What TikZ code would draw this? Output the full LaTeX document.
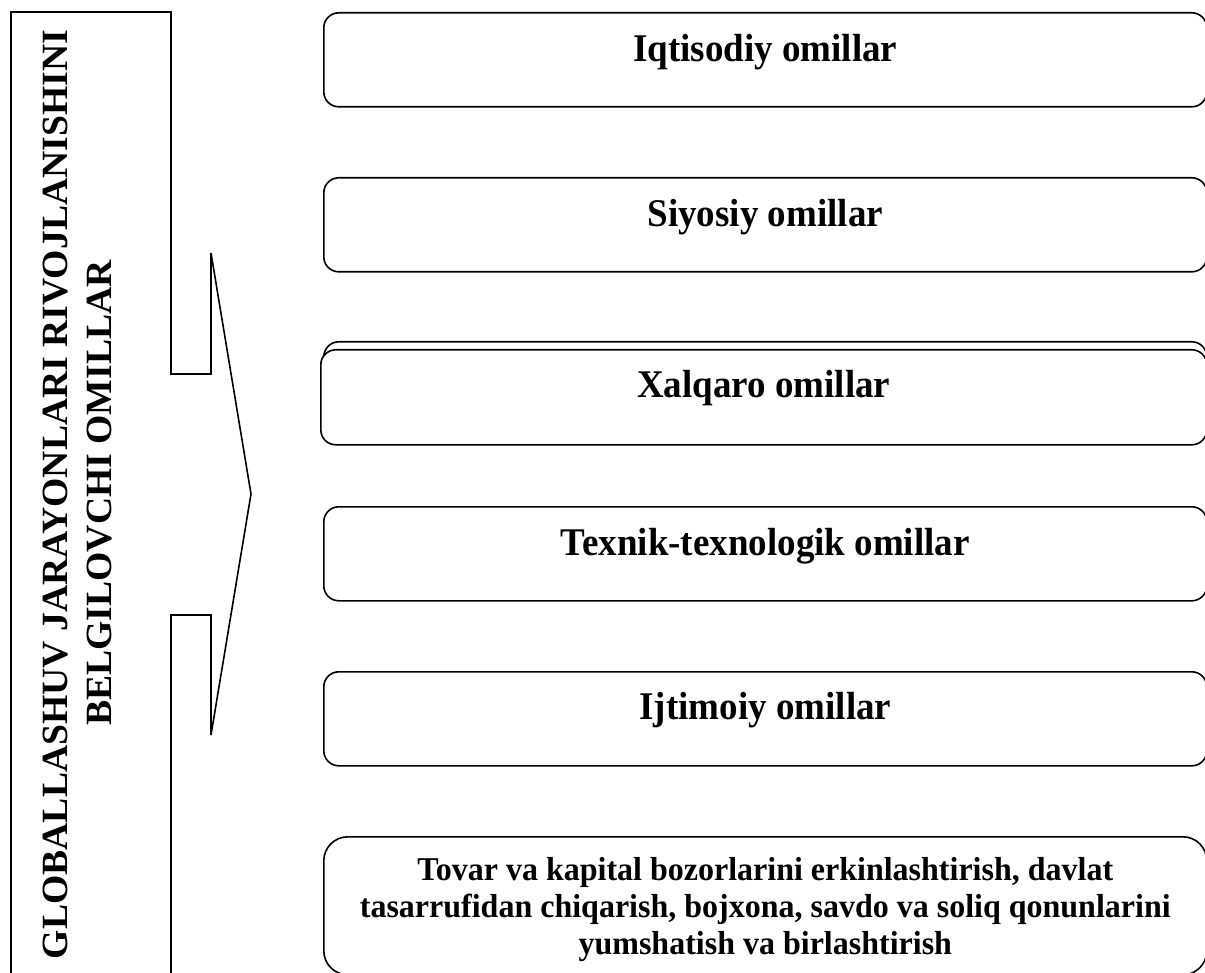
\documentclass[tikz,border=0pt]{standalone}
\usepackage{fontspec}
\setmainfont{Liberation Serif}
\begin{document}
\begin{tikzpicture}[x=1pt,y=-1pt,
  ln/.style={line width=1.6pt, line join=miter},
  fbox/.style={draw, line width=1.6pt, fill=white, rounded corners=15pt,
    anchor=north west, inner sep=0pt, minimum width=883pt, minimum height=94pt},
  lbl/.style={font=\fontsize{37}{42}\selectfont\bfseries, anchor=base, inner sep=0pt, yscale=1.06, transform shape},
  vlbl/.style={font=\fontsize{37}{42}\selectfont\bfseries, anchor=base, inner sep=0pt, rotate=90, xscale=1.018, transform shape},
  small/.style={font=\fontsize{32}{35.5}\selectfont\bfseries, anchor=base, inner sep=0pt, align=center, yscale=1.04, transform shape}
]
\useasboundingbox (0,0) rectangle (1205,973);
\clip (0,0) rectangle (1205,973);
% left frame with chevron arrow
\draw[ln] (11,990) -- (11,12) -- (171,12) -- (171,374) -- (211,374) -- (211,253)
  -- (251,494) -- (211,735) -- (211,615) -- (171,615) -- (171,990);
\node[vlbl] (h1) at (67,494.5) {GLOBALLASHUV JARAYONLARI RIVOJLANISHINI};
\node[vlbl] (h2) at (111,493) {BELGILOVCHI OMILLAR};
% boxes
\node[fbox] (b1) at (323,12) {};
\node[lbl] (t1) at ([yshift=-50pt]b1.north) {Iqtisodiy omillar};
\node[fbox] (b2) at (323,177) {};
\node[lbl] (t2) at ([yshift=-50pt]b2.north) {Siyosiy omillar};
\node[fbox, minimum height=95pt] (b3a) at (323,341) {};
\node[fbox, minimum width=886pt, minimum height=95pt] (b3) at (320,349) {};
\node[lbl] (t3) at ([yshift=-49pt]b3.north) {Xalqaro omillar};
\node[fbox] (b4) at (323,506) {};
\node[lbl] (t4) at ([yshift=-49pt]b4.north) {Texnik-texnologik omillar};
\node[fbox] (b5) at (323,671) {};
\node[lbl] (t5) at ([yshift=-48pt]b5.north) {Ijtimoiy omillar};
\node[fbox, rounded corners=24pt, minimum height=138pt] (b6) at (323,836) {};
\node[small, anchor=north] (t6) at ([yshift=-21pt]b6.north)
  {Tovar va kapital bozorlarini erkinlashtirish, davlat\\
   tasarrufidan chiqarish, bojxona, savdo va soliq qonunlarini\\
   yumshatish va birlashtirish};
\end{tikzpicture}
\end{document}
